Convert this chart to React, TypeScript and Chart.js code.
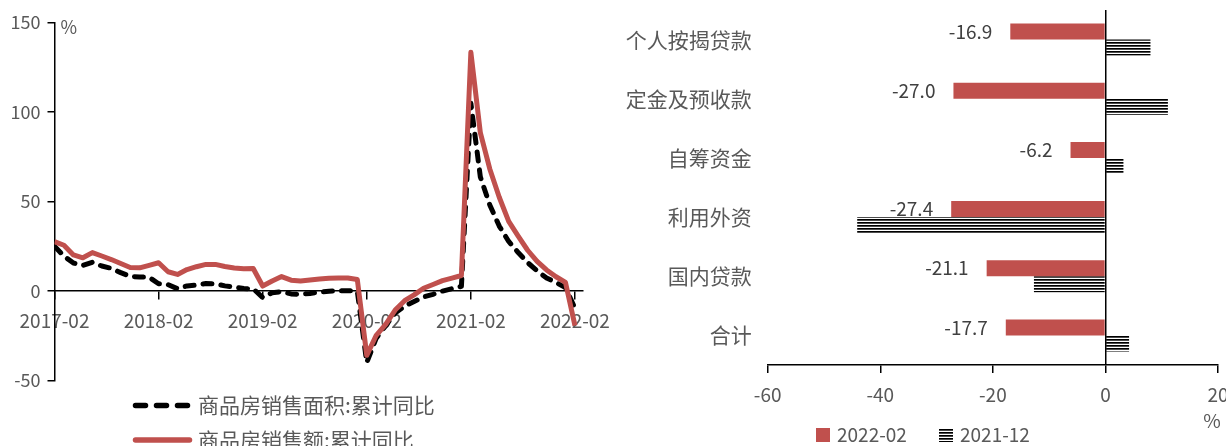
import React, { useEffect, useRef } from 'react';
import { Chart, registerables } from 'chart.js';

Chart.register(...registerables);

// Monthly cumulative YoY (Jan–Feb reported together, so each year starts at -02)
const months = [
  '2017-02', '2017-03', '2017-04', '2017-05', '2017-06', '2017-07', '2017-08', '2017-09', '2017-10', '2017-11', '2017-12',
  '2018-02', '2018-03', '2018-04', '2018-05', '2018-06', '2018-07', '2018-08', '2018-09', '2018-10', '2018-11', '2018-12',
  '2019-02', '2019-03', '2019-04', '2019-05', '2019-06', '2019-07', '2019-08', '2019-09', '2019-10', '2019-11', '2019-12',
  '2020-02', '2020-03', '2020-04', '2020-05', '2020-06', '2020-07', '2020-08', '2020-09', '2020-10', '2020-11', '2020-12',
  '2021-02', '2021-03', '2021-04', '2021-05', '2021-06', '2021-07', '2021-08', '2021-09', '2021-10', '2021-11', '2021-12',
  '2022-02',
];

// 商品房销售面积:累计同比 (%)
const areaYoY = [
  25.1, 19.5, 15.7, 14.3, 16.1, 14.0, 12.7, 10.3, 8.2, 7.9, 7.7,
  4.1, 3.6, 1.3, 2.9, 3.3, 4.2, 4.0, 2.9, 2.2, 1.4, 1.3,
  -3.6, -0.9, -0.3, -1.6, -1.8, -1.3, -0.6, -0.1, 0.1, 0.2, -0.1,
  -39.9, -26.3, -19.3, -12.3, -8.4, -5.8, -3.3, -1.8, 0.0, 1.3, 2.6,
  104.9, 63.8, 48.1, 36.3, 27.7, 21.5, 15.9, 11.3, 7.3, 4.8, 1.9,
  -9.6,
];

// 商品房销售额:累计同比 (%)
const salesYoY = [
  27.6, 25.6, 20.2, 18.6, 21.5, 19.6, 17.6, 15.4, 13.2, 13.0, 14.4,
  15.8, 10.8, 9.3, 12.0, 13.6, 14.9, 14.9, 13.7, 12.9, 12.5, 12.6,
  2.8, 5.6, 8.1, 6.1, 5.6, 6.2, 6.7, 7.1, 7.3, 7.3, 6.5,
  -35.9, -24.7, -18.6, -10.6, -5.4, -2.1, 1.6, 3.7, 5.8, 7.2, 8.7,
  133.4, 88.5, 68.2, 52.4, 38.9, 30.7, 22.8, 16.6, 11.8, 8.0, 4.8,
  -19.3,
];

const areaLabel = '商品房销售面积:累计同比';
const salesLabel = '商品房销售额:累计同比';

// Real-estate development funding sources, cumulative YoY (%)
const fundItems = ['个人按揭贷款', '定金及预收款', '自筹资金', '利用外资', '国内贷款', '合计'];
const funds2022Feb = [-16.9, -27.0, -6.2, -27.4, -21.1, -17.7];
const funds2021Dec = [8.0, 11.1, 3.2, -44.1, -12.7, 4.2];
const fundSeries = ['2022-02', '2021-12'];

const RED = '#C0504D';
const TEXT = '#595959';
const LABEL = '#404040';
const FONT = "'Noto Sans CJK SC', 'Open Sans', sans-serif";

function makeHatch(): CanvasPattern | string {
  const c = document.createElement('canvas');
  c.width = 8;
  c.height = 3;
  const g = c.getContext('2d');
  if (!g) return '#000';
  g.fillStyle = '#000';
  g.fillRect(0, 0, 8, 1.7);
  return g.createPattern(c, 'repeat') || '#000';
}

const lineExtras = {
  id: 'lineExtras',
  afterDraw(chart: any) {
    const { ctx, chartArea, scales } = chart;
    ctx.save();
    // unit next to the top of the value axis
    ctx.fillStyle = TEXT;
    ctx.font = `18px ${FONT}`;
    ctx.textAlign = 'left';
    ctx.textBaseline = 'middle';
    ctx.fillText('%', chartArea.left + 6, scales.y.getPixelForValue(150) + 5);

    // legend, one series per row
    const x0 = 135.5;
    const x1 = 189.5;
    const rows = [
      { y: 405.5, color: '#000', dash: [10, 11], text: areaLabel },
      { y: 440, color: RED, dash: [] as number[], text: salesLabel },
    ];
    rows.forEach((r) => {
      ctx.beginPath();
      ctx.setLineDash(r.dash);
      ctx.lineCap = 'round';
      ctx.lineWidth = 5.5;
      ctx.strokeStyle = r.color;
      ctx.moveTo(x0, r.y);
      ctx.lineTo(x1, r.y);
      ctx.stroke();
      ctx.setLineDash([]);
      ctx.fillStyle = TEXT;
      ctx.font = `21px ${FONT}`;
      ctx.textAlign = 'left';
      ctx.textBaseline = 'middle';
      ctx.fillText(r.text, 198, r.y);
    });
    ctx.restore();
  },
};

const barExtras = {
  id: 'barExtras',
  afterDatasetsDraw(chart: any) {
    const { ctx } = chart;
    const meta = chart.getDatasetMeta(0);
    ctx.save();
    ctx.fillStyle = LABEL;
    ctx.font = `19px ${FONT}`;
    ctx.textAlign = 'right';
    ctx.textBaseline = 'middle';
    meta.data.forEach((el: any, i: number) => {
      ctx.fillText(funds2022Feb[i].toFixed(1), el.x - 18, el.y);
    });
    ctx.restore();
  },
  afterDraw(chart: any) {
    const { ctx, scales } = chart;
    ctx.save();
    ctx.fillStyle = TEXT;
    ctx.font = `19px ${FONT}`;
    ctx.textAlign = 'center';
    ctx.textBaseline = 'middle';
    ctx.fillText('%', scales.x.getPixelForValue(20) - 6, 421);

    // legend row
    const items = [
      { x: 201, fill: chart.data.datasets[0].backgroundColor, text: fundSeries[0] },
      { x: 324, fill: chart.data.datasets[1].backgroundColor, text: fundSeries[1] },
    ];
    items.forEach((it) => {
      ctx.fillStyle = it.fill;
      ctx.fillRect(it.x, 428, 14, 14);
      ctx.fillStyle = TEXT;
      ctx.textAlign = 'left';
      ctx.fillText(it.text, it.x + 21, 435);
    });
    ctx.restore();
  },
};

export default function App() {
  const leftRef = useRef<HTMLCanvasElement>(null);
  const rightRef = useRef<HTMLCanvasElement>(null);

  useEffect(() => {
    const toPoints = (vals: number[]) => vals.map((v, i) => ({ x: i, y: v }));

    const left = new Chart(leftRef.current as HTMLCanvasElement, {
      type: 'line',
      data: {
        datasets: [
          {
            label: areaLabel,
            data: toPoints(areaYoY),
            borderColor: '#000',
            borderWidth: 5,
            borderDash: [9, 9],
            borderCapStyle: 'round',
            borderJoinStyle: 'round',
            pointRadius: 0,
            tension: 0,
            order: 1,
          },
          {
            label: salesLabel,
            data: toPoints(salesYoY),
            borderColor: RED,
            borderWidth: 5,
            borderJoinStyle: 'round',
            pointRadius: 0,
            tension: 0,
            order: 0,
          },
        ],
      },
      options: {
        responsive: false,
        animation: false,
        layout: { padding: { top: 22.5, right: 32, bottom: 65.4, left: 0 } },
        plugins: { legend: { display: false }, tooltip: { enabled: false } },
        scales: {
          x: {
            type: 'linear',
            min: 0,
            max: 55.85,
            position: { y: 0 } as any,
            grid: { drawOnChartArea: false, tickLength: 8, color: '#000', lineWidth: 1.5 },
            border: { color: '#000', width: 1.5 },
            ticks: {
              stepSize: 11,
              includeBounds: false,
              autoSkip: false,
              maxRotation: 0,
              padding: 10,
              color: TEXT,
              font: { family: FONT, size: 19 },
              callback: (v: any) => months[v as number] ?? null,
            },
            afterFit: (s: any) => {
              s.paddingLeft = 0;
              s.paddingRight = 0;
            },
          },
          y: {
            min: -50,
            max: 150,
            grid: { drawOnChartArea: false, tickLength: 7, color: '#000', lineWidth: 1.5 },
            border: { color: '#000', width: 1.5 },
            ticks: { stepSize: 50, padding: 7, color: TEXT, font: { family: FONT, size: 18 } },
            afterFit: (s: any) => {
              s.width = 54.5;
              s.paddingTop = 0;
              s.paddingBottom = 0;
            },
          },
        },
      },
      plugins: [lineExtras],
    } as any);

    const hatch = makeHatch();
    const right = new Chart(rightRef.current as HTMLCanvasElement, {
      type: 'bar',
      data: {
        labels: fundItems,
        datasets: [
          {
            label: fundSeries[0],
            data: funds2022Feb,
            backgroundColor: RED,
            barPercentage: 1,
            categoryPercentage: 0.54,
          },
          {
            label: fundSeries[1],
            data: funds2021Dec,
            backgroundColor: hatch,
            barPercentage: 1,
            categoryPercentage: 0.54,
          },
        ],
      },
      options: {
        indexAxis: 'y',
        responsive: false,
        animation: false,
        layout: { padding: { top: 10, right: 47, bottom: 0, left: 0 } },
        plugins: { legend: { display: false }, tooltip: { enabled: false } },
        scales: {
          x: {
            min: -60,
            max: 20,
            z: 1,
            grid: {
              color: (c: any) => (c.tick && c.tick.value === 0 ? '#000' : 'rgba(0,0,0,0)'),
              tickColor: '#000',
              lineWidth: 1.5,
              tickLength: 8,
            },
            border: { color: '#000', width: 1.5 },
            ticks: { stepSize: 20, padding: 10, color: TEXT, font: { family: FONT, size: 19 } },
            afterFit: (s: any) => {
              s.height = 81;
              s.paddingLeft = 0;
              s.paddingRight = 0;
            },
          },
          y: {
            grid: { display: false, drawTicks: false },
            border: { display: false },
            ticks: { padding: 16, color: TEXT, font: { family: FONT, size: 21 } },
            afterFit: (s: any) => {
              s.width = 152.7;
              s.paddingTop = 0;
              s.paddingBottom = 0;
            },
          },
        },
      },
      plugins: [barExtras],
    } as any);

    return () => {
      left.destroy();
      right.destroy();
    };
  }, []);

  return (
    <div
      style={{
        position: 'fixed',
        left: 0,
        top: 0,
        width: 1226,
        height: 446,
        overflow: 'hidden',
        background: '#fff',
      }}
    >
      <canvas ref={leftRef} width={615} height={446} style={{ position: 'absolute', left: 0, top: 0 }} />
      <canvas ref={rightRef} width={650} height={446} style={{ position: 'absolute', left: 615, top: 0 }} />
    </div>
  );
}
